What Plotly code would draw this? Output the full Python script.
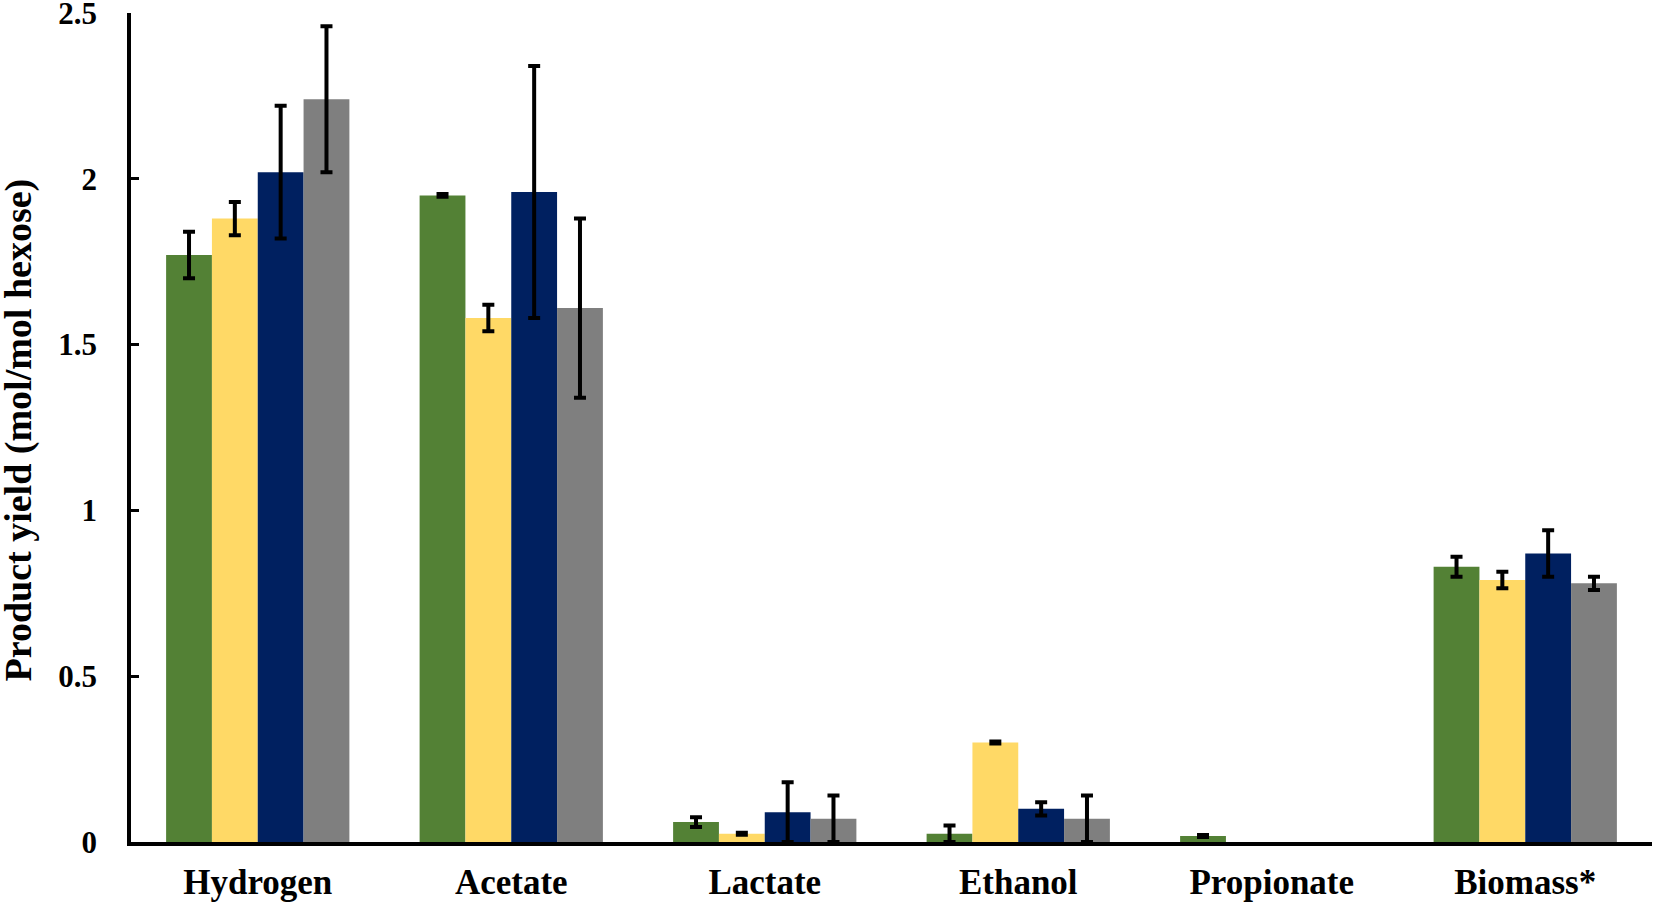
import plotly.graph_objects as go

categories = ["Hydrogen", "Acetate", "Lactate", "Ethanol", "Propionate", "Biomass*"]
series_names = ["Series 1", "Series 2", "Series 3", "Series 4"]
colors = ["#538135", "#FFD966", "#002060", "#7F7F7F"]

s1 = [1.77, 1.95, 0.06, 0.025, 0.018, 0.83]
s2 = [1.88, 1.58, 0.025, 0.30, 0.0, 0.79]
s3 = [2.02, 1.96, 0.09, 0.10, 0.0, 0.87]
s4 = [2.24, 1.61, 0.07, 0.07, 0.0, 0.78]

e1 = [0.07, 0.004, 0.015, 0.025, 0.003, 0.03]
e2 = [0.05, 0.04, 0.003, 0.003, None, 0.025]
e3 = [0.20, 0.38, 0.09, 0.02, None, 0.07]
e4 = [0.22, 0.27, 0.07, 0.07, None, 0.02]

y_ticks = [0, 0.5, 1, 1.5, 2, 2.5]
y_ticktext = ["0", "0.5", "1", "1.5", "2", "2.5"]

values = [s1, s2, s3, s4]
errors = [e1, e2, e3, e4]

font_family = "Liberation Serif, Times New Roman, serif"

fig = go.Figure()
for name, vals, errs, col in zip(series_names, values, errors, colors):
    # values without a measured error (zero yield) are left undrawn
    yv = [v if e is not None else None for v, e in zip(vals, errs)]
    ev = [e if e is not None else 0 for e in errs]
    fig.add_trace(go.Bar(
        x=categories, y=yv, name=name,
        marker=dict(color=col, line=dict(width=0)),
        error_y=dict(type="data", array=ev, visible=True,
                     color="black", thickness=4, width=6),
    ))

fig.update_layout(
    width=1654, height=903,
    barmode="group", bargap=0.277, bargroupgap=0,
    plot_bgcolor="white", paper_bgcolor="white",
    showlegend=False,
    margin=dict(l=131, r=2, t=13, b=61),
    font=dict(family=font_family, color="black"),
)
fig.update_xaxes(
    showline=True, linecolor="black", linewidth=3.5,
    ticks="", showgrid=False, automargin=False,
    ticklabelstandoff=6,
    tickfont=dict(family=font_family, size=35, color="black", weight="bold"),
)
fig.update_yaxes(
    range=[0, 2.5], tickmode="array", tickvals=y_ticks, ticktext=y_ticktext,
    showline=True, linecolor="black", linewidth=3.5,
    ticks="inside", ticklen=8, tickwidth=3, tickcolor="black",
    showgrid=False, zeroline=False, automargin=False,
    ticklabeloverflow="allow",
    tickfont=dict(family=font_family, size=31, color="black", weight="bold"),
    ticklabelstandoff=24,
)
fig.add_annotation(
    text="Product yield (mol/mol hexose)", textangle=-90,
    xref="paper", yref="paper", x=(17.5 - 131) / 1521, y=(842 - 430) / 829,
    xanchor="center", yanchor="middle", showarrow=False,
    font=dict(family=font_family, size=38, color="black", weight="bold"),
)

fig.write_html("out.html", config={"displayModeBar": False},
               post_script="document.body.style.margin='0';")
